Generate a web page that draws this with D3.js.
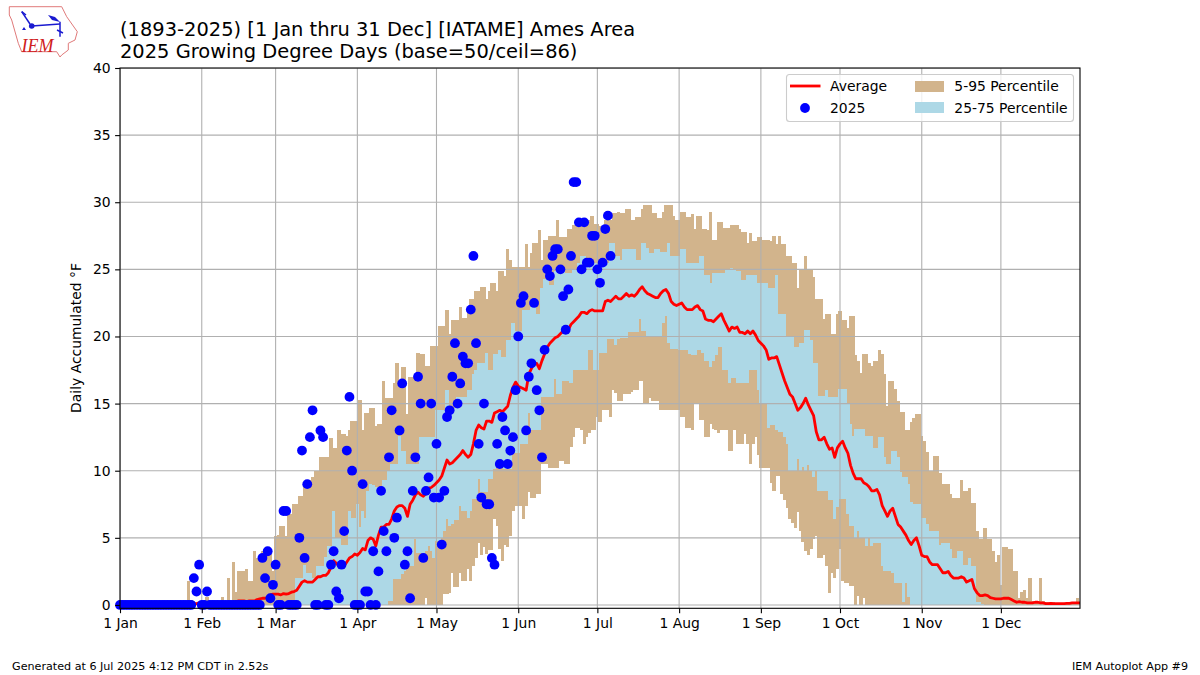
<!DOCTYPE html>
<html><head><meta charset="utf-8">
<script src="https://cdnjs.cloudflare.com/ajax/libs/d3/7.8.5/d3.min.js"></script>
<style>html,body{margin:0;padding:0;background:#fff}svg{display:block}text{font-family:"DejaVu Sans",sans-serif;fill:#000}</style>
</head><body><svg id="c" width="1200" height="675"></svg>
<script>
const titleLines=["(1893-2025) [1 Jan thru 31 Dec] [IATAME] Ames Area","2025 Growing Degree Days (base=50/ceil=86)"];
const monthNames=["1 Jan","1 Feb","1 Mar","1 Apr","1 May","1 Jun","1 Jul","1 Aug","1 Sep","1 Oct","1 Nov","1 Dec"];
const monthStarts=[0,31,59,90,120,151,181,212,243,273,304,334];
const yTicks=[0,5,10,15,20,25,30,35,40];
const p95=[
0,0,0,0,0,0,0,0,0,0,0,0,0,0,0,0,0,0,0,0,0,0,0,0,0,0,1.8,.4,.3,0,0,
0,0,.6,.3,0,0,0,0,.6,0,2,.3,3.2,1,2.5,2.5,2.5,2.7,1.8,1.8,4,3.5,3.5,4,4,3.8,3.8,2.5,
5.1,5.2,5.9,5.9,5.1,6.8,6.8,7.5,7.5,8.1,8.1,8.9,9.2,9.3,9.5,10,10,11,11,11,11,12.4,11.7,11.7,13,12.7,12.7,12.6,13,13.7,13.7,
13.7,15.3,13,14.3,14.3,14.7,14.7,13.3,13.5,13.5,16.7,15.4,15.4,15.4,16.5,18,16.5,17.7,17.7,14.2,17,17,17,18.8,18.7,18.7,17.8,17.8,19.3,19.3,
19.3,20.8,20.8,20.8,22,20.2,21.2,21.2,21.2,22.2,21.4,21.4,22,22.8,22.8,23.4,23.4,23.7,23.7,22.8,23.4,24,24,23.4,24.9,24.9,24.5,26.5,25.7,25.2,25.2,
25.2,25.2,25.2,26.9,25.2,26.2,27,27,27.9,25.7,27.2,27.2,27.5,27.5,27.5,28.7,27.4,27.4,27.4,28,28,28.3,28.3,28.5,28.5,28.5,28.7,28.7,29,28.4,
28.4,28.2,28.2,28.7,28.7,28.7,29.2,29.2,29.3,29.2,29.2,29.5,29.5,28.7,28.7,28.9,28.9,29.5,29.8,29.8,29.8,29.2,29.2,28.8,28.8,29.3,29.8,29.8,29.8,29,28.7,
28.7,29.3,29.3,28.9,28.9,29.1,28,29,29,28,28,27.9,29.3,27.2,27.2,28.5,28.5,28.1,28.1,28.1,28.3,28.3,28.3,28,27.8,27.8,27,27.7,27.1,27.1,27.4,
27.4,27.2,27.2,27.2,27.1,27.5,26.9,27.5,26.9,26.9,26,26,25.5,25.5,23.6,25,25,26,25,25,24.4,22.8,22.8,22.8,21.3,21.7,21.7,20.2,20.2,21.7,
21.9,21.2,21.2,20.6,21.5,21.5,18.6,18.2,17.3,18.7,18.7,18,17.8,18.2,18.2,19,18.7,17.2,14.8,16.7,16.7,16.1,15.2,14.4,14.4,13,13,13.6,13.9,14.2,14.2,
12.6,12.2,11.4,10,10,11.1,11.1,9.8,9,9,9,8.3,8,8,8,9.3,8.5,8.5,8.7,7.6,7.6,5.5,4.9,4.9,5.7,4.9,4.9,4,3.2,3.7,
1.5,4.3,4.3,4.2,4.2,2.5,2.5,.5,1,1.1,.5,2,.3,.3,.3,2,.3,.2,.2,.2,.2,.1,.1,.1,.1,.1,.1,.2,.2,.5,.2];
const p5=[
0,0,0,0,0,0,0,0,0,0,0,0,0,0,0,0,0,0,0,0,0,0,0,0,0,0,0,0,0,0,0,
0,0,0,0,0,0,0,0,0,0,0,0,0,0,0,0,0,0,0,0,0,0,0,0,0,0,0,0,
0,0,0,0,0,0,0,0,0,0,0,0,0,0,0,0,0,0,0,0,0,0,0,0,0,0,0,0,0,0,0,
0,0,0,0,0,0,0,0,0,0,0,0,0,0,0,0,0,0,0,0,0,0,0,0,0,0,.5,0,0,0,
0,0,0,.8,.8,.9,2.4,1.3,1.3,2.4,1.8,1.8,2.7,1.8,2.9,3.5,4.6,3.7,4.3,3.8,4.1,4.1,6.4,5.9,4.2,3.3,4.5,4.3,5.1,7,7.4,
7.4,7.4,6.4,7.4,8.4,8,8,8.3,8.3,10.5,10.5,10.5,10.2,10.2,10.2,10.2,10.7,10.7,10.5,10.5,11.8,12.5,13.2,13.2,13,12,12.5,12.8,13,13,
14,13.6,14.5,14.5,14.5,14,16,15.8,15.2,15.2,15.7,15.7,15.7,15.9,16,16,16.7,16.7,15,15,15.4,15.2,15.2,15.2,14.5,14.5,14.5,14.5,14.5,14.5,14.5,
14.5,14,14,13.2,13.2,13,15,15,13.8,13.8,12.5,12.5,13.5,13.1,13,12.8,13,13,13,11.5,11.5,13,12,12,12,12.7,12,10.5,12,12.5,11.2,
10.2,10.2,10.2,10.2,9.1,8.5,9.6,9.6,8.3,7.8,7.2,6.4,6.1,5.7,6.9,5.5,4.7,4,3.7,4.2,4.9,5.1,3.5,3.5,3.7,2.9,.9,2.4,2,2.7,
4.2,1.8,1.6,1.6,1.4,1.4,0,.7,0,.5,0,0,0,0,0,0,0,0,0,0,0,0,0,0,0,0,0,0,0,0,0,
0,0,0,0,0,0,0,0,0,0,0,0,0,0,0,0,0,0,0,0,0,0,0,0,0,0,0,0,0,0,
0,0,0,0,0,0,0,0,0,0,0,0,0,0,0,0,0,0,0,0,0,0,0,0,0,0,0,0,0,0,0];
const p75=[
0,0,0,0,0,0,0,0,0,0,0,0,0,0,0,0,0,0,0,0,0,0,0,0,0,0,0,0,0,0,0,
0,0,0,0,0,0,0,0,0,0,0,0,0,0,0,0,0,0,0,0,0,0,0,0,0,0,0,0,
0,0,0,0,0,0,0,0,2,2,2,3,2.4,2.4,2,2,2.9,2.9,2.9,3.6,4.4,4.4,7,5,5,4.5,4.5,4.5,7,6.5,6.5,
7.5,5.8,7,6.5,8.5,9,8.9,8.8,8.8,8.8,9.3,9.3,10,10.5,10.5,10.5,12.6,11.5,11.5,10.5,10.5,10.5,10.5,10.5,12.5,12.5,12.5,12.5,12.5,12.5,
14.5,14.5,14.5,14.5,16,14.7,14.7,14.7,15.5,15.5,15.5,15.5,16,16,17.2,17.5,18,18,18,18.8,17.5,17.5,18.7,18.7,19,18.5,18.5,19.7,19.7,21,20.4,
20.4,20.4,22,22,22,22.2,22.2,21.7,21.7,23.6,24.3,24.3,23.8,23.8,24.9,24.9,24.9,24.9,24.7,24.7,24.7,25,25,25.5,26,26,25.5,25.5,25.5,25.5,
25.5,25.5,25.5,25.5,25.5,27,27,26,26,25.7,26.5,26.5,26.5,26.5,26.5,25.7,25.7,27,27,26.6,26.2,26.2,26.5,26.5,26.3,26.3,26.3,27,26,26,26,
26,26.5,26.5,25.5,25.5,25.5,25.5,25.5,26,26,24.6,24.6,24,24.7,24.7,24.7,24.7,24.7,25,25,25.1,25,24.9,24.9,24.2,24.2,24.6,24.6,24.6,24.6,24,
24,24,24,23.6,23.6,23.6,24.6,21.7,21.7,21.7,20,20,20,19.2,19.2,19.5,19.5,20.5,20.5,19.7,18,18,15.6,15.6,15.6,16,15.5,15.5,15.5,15.5,
16.1,16.1,16.1,15,13.5,12.6,13.1,13.1,13.1,13.1,12.6,12.6,12.6,11.7,11.7,12.5,12.5,11,10.5,10.5,11.5,11.5,11,9.9,9.5,9.5,9,7.7,7.5,7.5,7.5,
6.5,6.5,6,5.5,5.5,5.5,5.5,4.5,4.6,4.6,4.6,4.2,3.5,3.5,4,4,3,3,3.5,2.9,2.9,.2,.2,.1,0,0,0,0,0,0,
0,0,0,0,0,0,0,0,0,0,0,0,0,0,0,0,0,0,0,0,0,0,0,0,0,0,0,0,0,0,0];
const p25=[
0,0,0,0,0,0,0,0,0,0,0,0,0,0,0,0,0,0,0,0,0,0,0,0,0,0,0,0,0,0,0,
0,0,0,0,0,0,0,0,0,0,0,0,0,0,0,0,0,0,0,0,0,0,0,0,0,0,0,0,
0,0,0,0,0,0,0,0,0,0,0,0,0,0,0,0,0,0,0,0,0,0,0,0,0,0,0,0,0,0,0,
0,0,0,0,0,0,0,0,0,0,0,0,.3,.3,1.9,1.9,1.9,2.3,2.5,2.9,2.9,2.9,4.9,3.9,3.9,3.9,4,4.4,4,3.5,
4.8,4.8,5,5.5,6.4,5.9,6,6.3,6.3,7.4,7,7,6.5,7,7.9,7.9,9.4,8.4,8.4,8.4,9.4,9.4,10.1,10.4,10.4,10.4,10.1,10.1,10.1,11.3,11.3,
11.3,12,12,12,14.3,13,13,13,13,15.5,15.5,15.5,15.5,15.5,16.8,15.7,15.7,16.7,16.7,16.7,16.5,17.5,17.5,17.5,17.5,17.5,17.5,19,19,17.5,
17.5,18.8,18.8,18.8,19.8,19.8,19.8,19.4,19.8,19.9,19.9,19.9,20.3,20.3,20.3,20.3,21.3,20.4,20.4,20,20,20,20,20,20,21,21.5,19.5,19.1,19.1,19.1,
19,19,19,19,18.7,18.6,18.6,19,19,18.8,18.2,18.2,17.7,18.2,18.6,19.2,19.2,17.5,17.5,16.5,16.9,16.9,16.5,16.5,16.5,16.5,16.5,17.5,17.5,17.5,16,
15,15,15,13.2,13.4,13.4,13,12.9,12.9,12.5,12,10,10,10,10.9,10,10.3,10,10.4,10,9.5,10,8.5,8.5,8.5,8.5,7.8,7.8,6.4,7.3,
7.9,7.9,7.9,6.8,5.9,5.9,5,5.5,5,5,4.4,5,4.4,4.6,4.6,4.6,2.9,2.5,2.5,2.5,2.4,1.6,1.6,1.6,.2,1.6,.6,0,0,0,0,
0,0,0,0,0,0,0,0,0,0,0,0,0,0,0,0,0,0,0,0,0,0,0,0,0,0,0,0,0,0,
0,0,0,0,0,0,0,0,0,0,0,0,0,0,0,0,0,0,0,0,0,0,0,0,0,0,0,0,0,0,0];
const avg=[
0,0,0,0,0,0,0,0,0,0,0,0,0,0,0,0,0,0,0,0,.02,.02,.03,.03,.05,.05,.05,.05,.1,.1,.15,
.1,.1,.1,.1,.1,.1,.1,.12,.12,.15,.2,.2,.2,.25,.3,.3,.3,.25,.3,.3,.3,.4,.45,.5,.5,.55,.75,.8,
.8,.8,.75,.85,.8,.85,.95,1,1.1,1.4,1.7,1.8,1.7,1.7,1.7,1.9,2.1,2.1,2.2,2.2,2.4,2.8,3.3,3.1,2.9,2.9,2.9,3.2,3.5,3.6,3.8,
3.7,3.9,4.2,4.1,4.8,5,4.9,4.4,5.2,5.8,5.8,6,6,6.4,7,7.3,7.4,7.4,7.2,6.6,7.5,7.8,8.2,8.4,8.2,8.1,8.3,8.7,8.75,8.9,
9.1,9.3,9.6,10.2,10.8,10.5,10.6,10.8,11,11.2,11.5,11.2,11,11.2,12,13,13.4,13.2,13.1,13.7,13.7,13.6,14.3,14.4,14.5,14.4,14.6,14.8,15.6,16.2,16.6,
16.3,16.2,16.1,16,17.2,17.6,18,18,17.6,18.2,18.7,19.2,19.5,19.7,19.9,20,20.2,20.4,20.4,20.5,20.9,21.1,21.3,21.5,21.8,21.8,21.7,21.9,22,21.9,
21.9,21.9,21.9,22.6,22.7,22.6,22.8,23,22.8,22.8,23,23.2,23,23.1,23,23.2,23.5,23.7,23.4,23.2,23.1,23,22.9,22.9,23.2,23.4,23.5,23.2,22.6,22.4,22.3,
22.4,22.5,22.2,22,22,22,22.2,22.3,22,21.9,21.3,21.2,21.2,21.1,21.3,21.5,21.7,21.2,20.8,20.4,20.7,20.6,20.7,20.3,20.3,20.2,20.4,20.2,20.4,20.1,19.7,
19.5,19.3,19,18.3,18.4,18.4,18.5,17.9,17.3,16.7,16.2,15.7,15.5,15,14.5,14.7,15,15.4,14.9,14.5,14.1,12.9,12.3,12.3,12.5,12,11.6,11.7,11,11.7,
12,12.2,11.7,11.3,10.4,9.8,9.4,9.4,9.4,9.1,9,8.8,8.5,8.5,8.6,8.2,7.4,7,6.6,7,7.2,6.6,6,5.8,5.5,5.2,4.8,4.5,4.8,5,4.4,
3.7,3.6,3.6,3.2,3,3,3,2.7,2.4,2.4,2.5,2.2,2,2,2,2.1,2,1.7,1.8,1.9,1.2,.9,.7,.7,.75,.7,.55,.5,.45,.45,
.45,.5,.5,.5,.4,.3,.2,.25,.2,.2,.15,.15,.15,.2,.2,.15,.15,.1,.1,.12,.1,.1,.1,.1,.1,.12,.12,.15,.15,.15,.15];
const obs2025=[
0,0,0,0,0,0,0,0,0,0,0,0,0,0,0,0,0,0,0,0,0,0,0,0,0,0,0,0,2,1,3,
0,0,1,0,0,0,0,0,0,0,0,0,0,0,0,0,0,0,0,0,0,0,0,3.5,2,4,.5,1.5,
3,0,0,7,7,0,0,0,0,5,11.5,3.5,9,12.5,14.5,0,0,13,12.5,0,0,3,4,1,.5,3,5.5,11.5,15.5,10,0,
0,0,9,1,1,0,4,0,2.5,8.5,5.5,4,11,14.5,5,6.5,13,16.5,3,4,.5,8.5,11,17,15,3.5,8.5,9.5,15,8,
12,8,4.5,8.5,14,14.5,17,19.5,15,16.5,18.5,18,18,22,26,19.5,12,8,15,7.5,7.5,3.5,3,12,10.5,14,13,10.5,11.5,12.5,16,
20,22.5,23,13,17,18,22.5,16,14.5,11,19,25,24.5,26,26.5,26.5,25,23,20.5,23.5,26,31.5,31.5,28.5,25,28.5,25.5,25.5,27.5,27.5,
25,24,25.5,28,29,26];

const svg=d3.select("#c");
const L=120,R=1080,T=68,B=608.3;
const x=d3.scaleLinear().domain([0,364]).range([L,R]);
const y=d3.scaleLinear().domain([-0.25,40]).range([B,T]);
const w=x(1)-x(0);
const days=d3.range(365);
svg.append("defs").append("clipPath").attr("id","pl").append("rect").attr("x",L).attr("y",T).attr("width",R-L).attr("height",B-T);
const plot=svg.append("g").attr("clip-path","url(#pl)");
plot.append("g").attr("shape-rendering","crispEdges").selectAll("rect").data(days.filter(d=>p95[d]>p5[d])).join("rect")
 .attr("x",d=>x(d)-w/2-.3).attr("width",w+.6).attr("y",d=>y(p95[d])).attr("height",d=>y(p5[d])-y(p95[d])).attr("fill","#D2B48C");
plot.append("g").attr("shape-rendering","crispEdges").selectAll("rect").data(days.filter(d=>p75[d]>p25[d])).join("rect")
 .attr("x",d=>x(d)-w/2-.3).attr("width",w+.6).attr("y",d=>y(p75[d])).attr("height",d=>y(p25[d])-y(p75[d])).attr("fill","#ADD8E6");
const grid=plot.append("g").attr("stroke","#b0b0b0").attr("stroke-width",1.1);
grid.selectAll("line.v").data(monthStarts).join("line").attr("class","v").attr("x1",d=>x(d)).attr("x2",d=>x(d)).attr("y1",T).attr("y2",B);
grid.selectAll("line.h").data(yTicks).join("line").attr("class","h").attr("y1",d=>y(d)).attr("y2",d=>y(d)).attr("x1",L).attr("x2",R);
plot.append("path").datum(days).attr("fill","none").attr("stroke","#f00").attr("stroke-width",2.8).attr("stroke-linejoin","round")
 .attr("d",d3.line().x(d=>x(d)).y(d=>y(avg[d])));
svg.append("g").selectAll("circle").data(obs2025).join("circle").attr("cx",(d,i)=>x(i)).attr("cy",d=>y(d)).attr("r",4.9).attr("fill","#00f");
svg.append("rect").attr("x",L).attr("y",T).attr("width",R-L).attr("height",B-T).attr("fill","none").attr("stroke","#000").attr("stroke-width",1.1);
const xAxis=d3.axisBottom(x).tickValues(monthStarts).tickFormat((d,i)=>monthNames[i]).tickSize(4.9).tickPadding(4.5);
const yAxis=d3.axisLeft(y).tickValues(yTicks).tickSize(4.9).tickPadding(4.5);
for(const [ax,tf] of [[xAxis,`translate(0,${B})`],[yAxis,`translate(${L},0)`]]){
 const g=svg.append("g").attr("transform",tf).call(ax);
 g.select(".domain").remove();
 g.selectAll("line").attr("stroke","#000").attr("stroke-width",1.1);
 g.selectAll("text").style("font-family",'"DejaVu Sans"').style("font-size","13.9px").attr("fill","#000");
}
titleLines.forEach((t,i)=>svg.append("text").attr("x",120).attr("y",35.5+i*22.3).style("font-size","19.45px").text(t));
svg.append("text").attr("transform","translate(81,338) rotate(-90)").attr("text-anchor","middle").style("font-size","13.9px").text("Daily Accumulated °F");
svg.append("text").attr("x",12).attr("y",670).style("font-size","11.15px").text("Generated at 6 Jul 2025 4:12 PM CDT in 2.52s");
svg.append("text").attr("x",1188).attr("y",670).attr("text-anchor","end").style("font-size","11.15px").text("IEM Autoplot App #9");
// legend
const lg=svg.append("g");
lg.append("rect").attr("x",786.5).attr("y",74.5).attr("width",287).attr("height",47).attr("rx",3).attr("fill","#fff").attr("fill-opacity",.8).attr("stroke","#ccc").attr("stroke-width",1.1);
lg.append("line").attr("x1",790).attr("x2",820.5).attr("y1",86).attr("y2",86).attr("stroke","#f00").attr("stroke-width",2.8);
lg.append("circle").attr("cx",805).attr("cy",108).attr("r",4.9).attr("fill","#00f");
lg.append("rect").attr("x",915).attr("y",81).attr("width",29).attr("height",11).attr("fill","#D2B48C");
lg.append("rect").attr("x",915).attr("y",102).attr("width",29).attr("height",11).attr("fill","#ADD8E6");
[["Average",830,91],["2025",830,112.5],["5-95 Percentile",954.3,91],["25-75 Percentile",954.3,112.5]].forEach(([t,a,b])=>lg.append("text").attr("x",a).attr("y",b).style("font-size","13.9px").text(t));
// logo
const logo=svg.append("g");
logo.append("path").attr("d","M9.3 6.7 L61.7 6.7 L66.7 16.7 L77.3 31.7 L75 40 L68.3 43.3 L68.3 50 L61.7 55 L60 57 L56.7 51.7 L21.7 51.7 L18.3 43.3 L11.7 20 L9.3 15 Z").attr("fill","none").attr("stroke","#e07a7a").attr("stroke-width",1);
logo.append("g").attr("stroke","#1a1ad0").attr("fill","none").attr("stroke-width",1.5).selectAll("path").data(["M31.7 26 L60 24","M21.7 11.7 L30 24","M21.7 11.7 L26 15","M60 21.7 L60 36.7","M57 30 L63 33"]).join("path").attr("d",d=>d);
logo.append("circle").attr("cx",31.7).attr("cy",26).attr("r",2.8).attr("fill","#1a1ad0");
logo.append("path").attr("d","M48 15 L55 17 L60 22 L52 20 Z").attr("fill","#1a1ad0");
logo.append("path").attr("d","M24 27 L26 30 L22 30 Z").attr("fill","#1a1ad0");
logo.append("text").attr("x",21.5).attr("y",51.5).style("font-family",'"Liberation Serif"').style("font-style","italic").style("font-size","18px").style("fill","#d02020").text("IEM");
</script></body></html>
